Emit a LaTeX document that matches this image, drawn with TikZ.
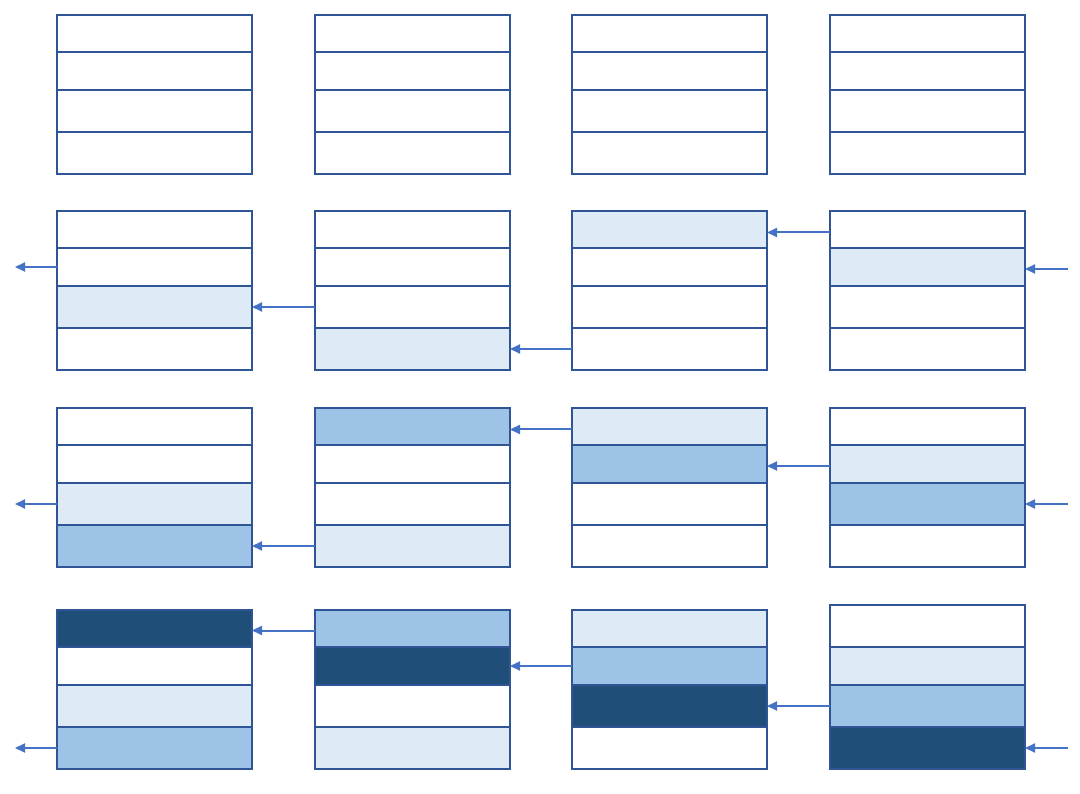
\documentclass[tikz,border=0pt]{standalone}
\usetikzlibrary{arrows.meta}
\definecolor{bord}{HTML}{2F5597}
\definecolor{arrc}{HTML}{4472C4}
\definecolor{W}{HTML}{FFFFFF}
\definecolor{L}{HTML}{DEEBF7}
\definecolor{M}{HTML}{9DC3E6}
\definecolor{D}{HTML}{1F4E79}
\tikzset{
  cell/.style={draw=bord, line width=1.5pt, minimum width=195pt, inner sep=0pt, outer sep=0pt, anchor=north west},
  arr/.style={draw=arrc, line width=2pt, -{Triangle[length=10pt,width=9pt]}},
}
\newcommand\mkblk[8]{%
  \node[cell,fill=#4,minimum height=#8] (#1-1) at (#2,#3) {};
  \node[cell,fill=#5,minimum height=38pt] (#1-2) at (#1-1.south west) {};
  \node[cell,fill=#6,minimum height=42pt] (#1-3) at (#1-2.south west) {};
  \node[cell,fill=#7,minimum height=42pt] (#1-4) at (#1-3.south west) {};
}
\begin{document}
\begin{tikzpicture}[x=1pt,y=-1pt]
\useasboundingbox (0,0) rectangle (1080,794);
% block row 1
\mkblk{a1}{57}{15}{W}{W}{W}{W}{37pt}
\mkblk{a2}{315}{15}{W}{W}{W}{W}{37pt}
\mkblk{a3}{572}{15}{W}{W}{W}{W}{37pt}
\mkblk{a4}{830}{15}{W}{W}{W}{W}{37pt}
% block row 2
\mkblk{b1}{57}{211}{W}{W}{L}{W}{37pt}
\mkblk{b2}{315}{211}{W}{W}{W}{L}{37pt}
\mkblk{b3}{572}{211}{L}{W}{W}{W}{37pt}
\mkblk{b4}{830}{211}{W}{L}{W}{W}{37pt}
% block row 3
\mkblk{c1}{57}{408}{W}{W}{L}{M}{37pt}
\mkblk{c2}{315}{408}{M}{W}{W}{L}{37pt}
\mkblk{c3}{572}{408}{L}{M}{W}{W}{37pt}
\mkblk{c4}{830}{408}{W}{L}{M}{W}{37pt}
% block row 4
\mkblk{d1}{57}{610}{D}{W}{L}{M}{37pt}
\mkblk{d2}{315}{610}{M}{D}{W}{L}{37pt}
\mkblk{d3}{572}{610}{L}{M}{D}{W}{37pt}
\mkblk{d4}{830}{605}{W}{L}{M}{D}{42pt}
% free ends
\coordinate (inb) at ([xshift=43pt,yshift=-2pt]b4-2.east);
\coordinate (outb) at ([xshift=-42pt]b1-2.west);
\coordinate (inc) at ([xshift=43pt]c4-3.east);
\coordinate (outc) at ([xshift=-42pt]c1-3.west);
\coordinate (ind) at ([xshift=43pt]d4-4.east);
\coordinate (outd) at ([xshift=-42pt]d1-4.west);
% arrows row 2
\draw[arr] (inb) -- ([yshift=-2pt]b4-2.east);
\draw[arr] ([yshift=-3pt]b4-1.west) -- ([yshift=-3pt]b3-1.east);
\draw[arr] (b3-4.west) -- (b2-4.east);
\draw[arr] (b2-3.west) -- (b1-3.east);
\draw[arr] (b1-2.west) -- (outb);
% arrows row 3
\draw[arr] (inc) -- (c4-3.east);
\draw[arr] ([yshift=-2pt]c4-2.west) -- ([yshift=-2pt]c3-2.east);
\draw[arr] ([yshift=-3pt]c3-1.west) -- ([yshift=-3pt]c2-1.east);
\draw[arr] (c2-4.west) -- (c1-4.east);
\draw[arr] (c1-3.west) -- (outc);
% arrows row 4
\draw[arr] (ind) -- (d4-4.east);
\draw[arr] (d4-3.west) -- (d3-3.east);
\draw[arr] (d3-2.west) -- (d2-2.east);
\draw[arr] ([yshift=-2pt]d2-1.west) -- ([yshift=-2pt]d1-1.east);
\draw[arr] (d1-4.west) -- (outd);
\end{tikzpicture}
\end{document}
